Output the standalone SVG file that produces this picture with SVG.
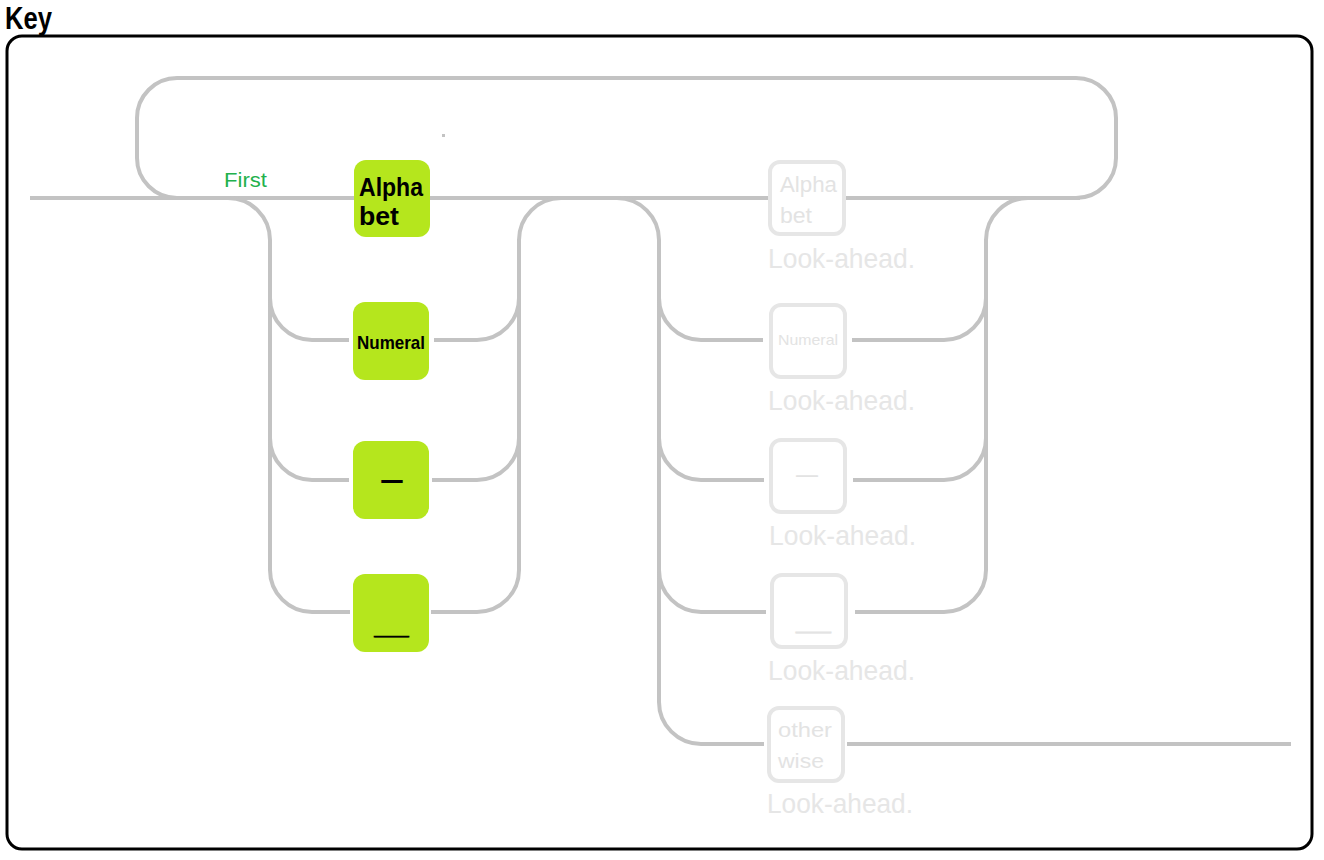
<svg xmlns="http://www.w3.org/2000/svg" width="1324" height="860" viewBox="0 0 1324 860">
<style>
.conn{fill:none;stroke:#c3c3c3;stroke-width:4}
.gbox{fill:#b5e61d}
.fbox{fill:#ffffff;stroke:#e6e6e6;stroke-width:4}
.gt{font-family:"Liberation Sans",Arial,sans-serif;font-weight:bold;fill:#000}
.ft{font-family:"Liberation Sans",Arial,sans-serif;fill:#e3e3e3}
.la{font-family:"Liberation Sans",Arial,sans-serif;font-size:28px;fill:#e6e6e6}
</style>
<rect width="1324" height="860" fill="#ffffff"/>
<text x="5" y="29" font-family="Liberation Sans, Arial, sans-serif" font-weight="bold" font-size="31" textLength="47" lengthAdjust="spacingAndGlyphs">Key</text>
<rect id="frame" x="7" y="36" width="1305" height="813" rx="15" fill="none" stroke="#000" stroke-width="3"/>
<g id="connectors">
<rect class="conn" x="137" y="78" width="979" height="120" rx="40"/>
<path class="conn" d="M30 198 H351"/>
<path class="conn" d="M434 198 H765"/>
<path class="conn" d="M850 198 H1080"/>
<path class="conn" d="M228 198 A42 42 0 0 1 270 240 V570 A42 42 0 0 0 312 612 H350"/>
<path class="conn" d="M270 298 A42 42 0 0 0 312 340 H349"/>
<path class="conn" d="M270 438 A42 42 0 0 0 312 480 H349"/>
<path class="conn" d="M434 340 H477 A42 42 0 0 0 519 298"/>
<path class="conn" d="M432 480 H477 A42 42 0 0 0 519 438"/>
<path class="conn" d="M431 612 H477 A42 42 0 0 0 519 570 V240 A42 42 0 0 1 561 198"/>
<path class="conn" d="M617 198 A42 42 0 0 1 659 240 V702 A42 42 0 0 0 701 744 H764"/>
<path class="conn" d="M659 298 A42 42 0 0 0 701 340 H763"/>
<path class="conn" d="M659 438 A42 42 0 0 0 701 480 H764"/>
<path class="conn" d="M659 570 A42 42 0 0 0 701 612 H766"/>
<path class="conn" d="M852 340 H944 A42 42 0 0 0 986 298"/>
<path class="conn" d="M853 480 H944 A42 42 0 0 0 986 438"/>
<path class="conn" d="M855 612 H944 A42 42 0 0 0 986 570 V240 A42 42 0 0 1 1028 198"/>
<path class="conn" d="M847 744 H1291"/>
<rect x="442" y="134" width="3" height="3" fill="#c3c3c3"/>
<text x="224" y="187" font-family="Liberation Sans, Arial, sans-serif" font-size="20" fill="#22b14c" textLength="43" lengthAdjust="spacingAndGlyphs">First</text>
</g>
<g id="g-alphabet">
<rect class="gbox" x="354" y="160" width="76" height="77" rx="12"/>
<text class="gt" x="359" y="196" font-size="26" textLength="64" lengthAdjust="spacingAndGlyphs">Alpha</text>
<text class="gt" x="359" y="225" font-size="26" textLength="40" lengthAdjust="spacingAndGlyphs">bet</text>
</g>
<g id="g-numeral">
<rect class="gbox" x="353" y="302" width="76" height="78" rx="12"/>
<text class="gt" x="357" y="349" font-size="19" textLength="68" lengthAdjust="spacingAndGlyphs">Numeral</text>
</g>
<g id="g-hyphen">
<rect class="gbox" x="353" y="441" width="76" height="78" rx="12"/>
<text class="gt" x="378" y="488" font-size="26" textLength="28" lengthAdjust="spacingAndGlyphs">-</text>
</g>
<g id="g-underscore">
<rect class="gbox" x="353" y="574" width="76" height="78" rx="12"/>
<text class="gt" x="375" y="634" font-size="30" stroke="#000" stroke-width="0.8" textLength="33" lengthAdjust="spacingAndGlyphs">_</text>
</g>
<g id="f-alphabet">
<rect class="fbox" x="770" y="162" width="74" height="72" rx="10"/>
<text class="ft" x="780" y="192" font-size="22" textLength="57" lengthAdjust="spacingAndGlyphs">Alpha</text>
<text class="ft" x="780" y="223" font-size="22" textLength="32" lengthAdjust="spacingAndGlyphs">bet</text>
<text class="la" x="768" y="268" textLength="147" lengthAdjust="spacingAndGlyphs">Look-ahead.</text>
</g>
<g id="f-numeral">
<rect class="fbox" x="771" y="305" width="74" height="72" rx="10"/>
<text class="ft" x="778" y="345" font-size="15" textLength="60" lengthAdjust="spacingAndGlyphs">Numeral</text>
<text class="la" x="768" y="410" textLength="147" lengthAdjust="spacingAndGlyphs">Look-ahead.</text>
</g>
<g id="f-hyphen">
<rect class="fbox" x="771" y="440" width="74" height="72" rx="10"/>
<text class="ft" x="792" y="482" font-size="22" textLength="30" lengthAdjust="spacingAndGlyphs">-</text>
<text class="la" x="769" y="545" textLength="147" lengthAdjust="spacingAndGlyphs">Look-ahead.</text>
</g>
<g id="f-underscore">
<rect class="fbox" x="772" y="575" width="74" height="72" rx="10"/>
<text class="ft" x="797" y="629" font-size="22" stroke="#e3e3e3" stroke-width="0.6" textLength="33" lengthAdjust="spacingAndGlyphs">_</text>
<text class="la" x="768" y="680" textLength="147" lengthAdjust="spacingAndGlyphs">Look-ahead.</text>
</g>
<g id="f-otherwise">
<rect class="fbox" x="769" y="708" width="74" height="73" rx="10"/>
<text class="ft" x="778" y="737" font-size="21" textLength="54" lengthAdjust="spacingAndGlyphs">other</text>
<text class="ft" x="778" y="768" font-size="21" textLength="46" lengthAdjust="spacingAndGlyphs">wise</text>
<text class="la" x="767" y="813" textLength="146" lengthAdjust="spacingAndGlyphs">Look-ahead.</text>
</g>
</svg>
